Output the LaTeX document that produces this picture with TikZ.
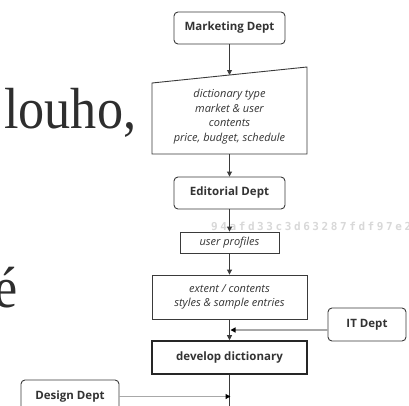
\documentclass[tikz,border=0pt]{standalone}
\usepackage{fontspec}
\setsansfont{Open Sans}
\newfontfamily\bigserif{Liberation Serif}
\newfontfamily\wmfont[LetterSpace=23.5]{DejaVu Sans Mono}
\usetikzlibrary{arrows.meta,calc}
\definecolor{linec}{HTML}{3A3A3A}
\definecolor{textc}{HTML}{333333}
\definecolor{bigc}{HTML}{2E2E2E}
\definecolor{feedc}{HTML}{A8A8A8}
\definecolor{wmc}{HTML}{D8D8D8}
\begin{document}
\begin{tikzpicture}[x=1pt,y=-1pt,
  box/.style={draw=linec, line width=0.9pt, text=textc, inner sep=0pt, align=center},
  dept/.style={box, rounded corners=4pt, font=\sffamily\bfseries\fontsize{11.5}{13}\selectfont},
  info/.style={box, font=\sffamily\itshape\fontsize{11}{14.6}\selectfont},
  flow/.style={draw=linec, line width=0.9pt, -{Triangle[length=5pt,width=5pt]}},
  feed/.style={draw=feedc, line width=1.2pt, -{Triangle[length=5pt,width=5pt,color=black]}},
  bigword/.style={anchor=base west, inner sep=0pt, text=bigc, font=\bigserif\fontsize{58}{60}\selectfont}
]
\useasboundingbox (0,0) rectangle (409,405);

% large background words
\node[bigword] (w1) at (4,128) {\scalebox{0.9}[1]{louho,}};
\node[bigword, anchor=base east] (w2) at (18,307) {\scalebox{0.9}[1]{é}};

% watermark
\node[anchor=west, inner sep=0pt, text=wmc, font=\wmfont\bfseries\fontsize{11}{12}\selectfont] (wm) at (211,226.5) {94afd33c3d63287fdf97e2};

% nodes
\node[dept, minimum width=111pt, minimum height=32pt] (mkt) at (229.5,28) {Marketing Dept};

\coordinate (stl) at (152,83);
\coordinate (str) at (307,67);
\coordinate (sbr) at (307,154);
\coordinate (sbl) at (152,154);
\draw[draw=linec, line width=0.9pt] (stl) -- (str) -- (sbr) -- (sbl) -- cycle;
\node[info, draw=none] (spec) at (229.5,116.5) {dictionary type\\market \& user\\contents\\price, budget, schedule};
\coordinate (specTop) at (229.5,75);
\coordinate (specBot) at (229.5,154);

\node[dept, minimum width=111pt, minimum height=32pt] (ed) at (229.5,193) {Editorial Dept};
\node[info, minimum width=99pt, minimum height=21pt] (up) at (229.5,242.5) {user profiles};
\node[info, minimum width=155pt, minimum height=44pt] (ext) at (229.5,297) {extent / contents\\styles \& sample entries};
\node[dept, rounded corners=0pt, line width=1.6pt, draw=black!85, minimum width=155pt, minimum height=33pt] (dev) at (229.5,357.5) {develop dictionary};
\node[dept, minimum width=78pt, minimum height=33pt] (it) at (367,324.5) {IT Dept};
\node[dept, minimum width=98pt, minimum height=33pt] (des) at (70,396.5) {Design Dept};

\coordinate (itIn) at (230.5,330);
\coordinate (desIn) at (230.5,396.5);
\coordinate (devOut) at (229.5,412);

% connectors
\draw[flow] (mkt.south) -- (specTop);
\draw[flow] (specBot) -- (ed.north);
\draw[flow] (ed.south) -- (up.north);
\draw[flow] (up.south) -- (ext.north);
\draw[flow] (ext.south) -- (dev.north);
\draw[draw=linec, line width=0.9pt] (dev.south) -- (devOut);
\draw[feed] (it.west |- itIn) -- (itIn);
\draw[feed] (des.east) -- (desIn);
\end{tikzpicture}
\end{document}
